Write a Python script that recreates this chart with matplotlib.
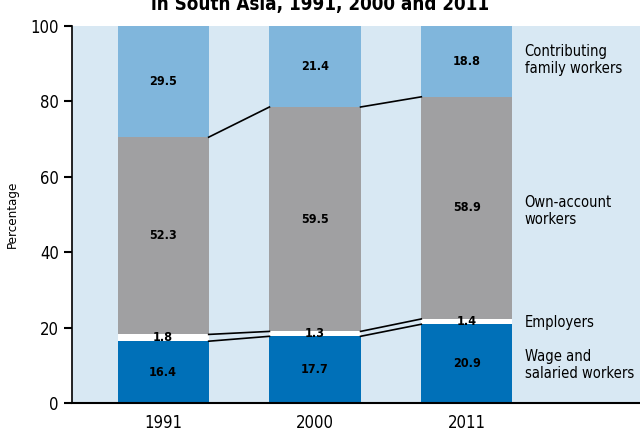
"""Status in employment, South Asia, 1991/2000/2011."""

import matplotlib
matplotlib.use("Agg")
import matplotlib.pyplot as plt
import numpy as np

plt.rcParams["font.family"] = ["DejaVu Sans"]
plt.rcParams["font.stretch"] = "condensed"

years = ["1991", "2000", "2011"]
wage = [16.4, 17.7, 20.9]
employers = [1.8, 1.3, 1.4]
own_account = [52.3, 59.5, 58.9]
contributing = [29.5, 21.4, 18.8]

series_labels = ["Wage and\nsalaried workers", "Employers",
                 "Own-account\nworkers", "Contributing\nfamily workers"]
label_y = [10, 21.3, 51, 91]

COLORS = ["#0070b8", "#ffffff", "#a0a0a2", "#80b6dc"]
BG = "#d8e8f3"
WIDTH = 0.6

fig = plt.figure(figsize=(6.4, 4.32), dpi=100)
ax = fig.add_axes([0.1125, 0.067, 0.8875, 0.873])
ax.set_facecolor(BG)

x = np.arange(len(years))
series = [wage, employers, own_account, contributing]
bottom = np.zeros(len(years))
tops = []
for vals, color in zip(series, COLORS):
    vals = np.array(vals)
    ax.bar(x, vals, WIDTH, bottom=bottom, color=color, linewidth=0, zorder=2)
    for xi, b, v in zip(x, bottom, vals):
        ax.text(xi, b + v / 2, f"{v:.1f}", ha="center", va="center",
                fontsize=9, fontweight="bold", zorder=4)
    bottom = bottom + vals
    tops.append(bottom.copy())

# connector lines between bars for the lower boundaries
for t in tops[:3]:
    for i in range(len(years) - 1):
        ax.plot([x[i] + WIDTH / 2, x[i + 1] - WIDTH / 2], [t[i], t[i + 1]],
                color="black", linewidth=1.2, zorder=3)

for lab, yv in zip(series_labels, label_y):
    ax.text(2.38, yv, lab, ha="left", va="center", fontsize=10.5,
            linespacing=1.15, zorder=4)

ax.set_xlim(-0.6, 3.14)
ax.set_ylim(0, 100)
ax.set_xticks(x)
ax.set_xticklabels(years, fontsize=12)
ax.set_yticks([0, 20, 40, 60, 80, 100])
ax.tick_params(axis="y", labelsize=12, length=6, width=1.5, direction="out")
ax.tick_params(axis="x", length=0, pad=8)
ax.set_ylabel("Percentage", fontsize=9.5, labelpad=8)
for s in ["top", "right"]:
    ax.spines[s].set_visible(False)
ax.spines["left"].set_linewidth(1.2)
ax.spines["bottom"].set_linewidth(1.5)

# title sits partly above the canvas, as in the source crop
fig.text(0.5, 1 - 10 / 432, "in South Asia, 1991, 2000 and 2011",
         ha="center", va="baseline", fontsize=13.5, fontweight="bold")

fig.savefig("out.png", dpi=100)
